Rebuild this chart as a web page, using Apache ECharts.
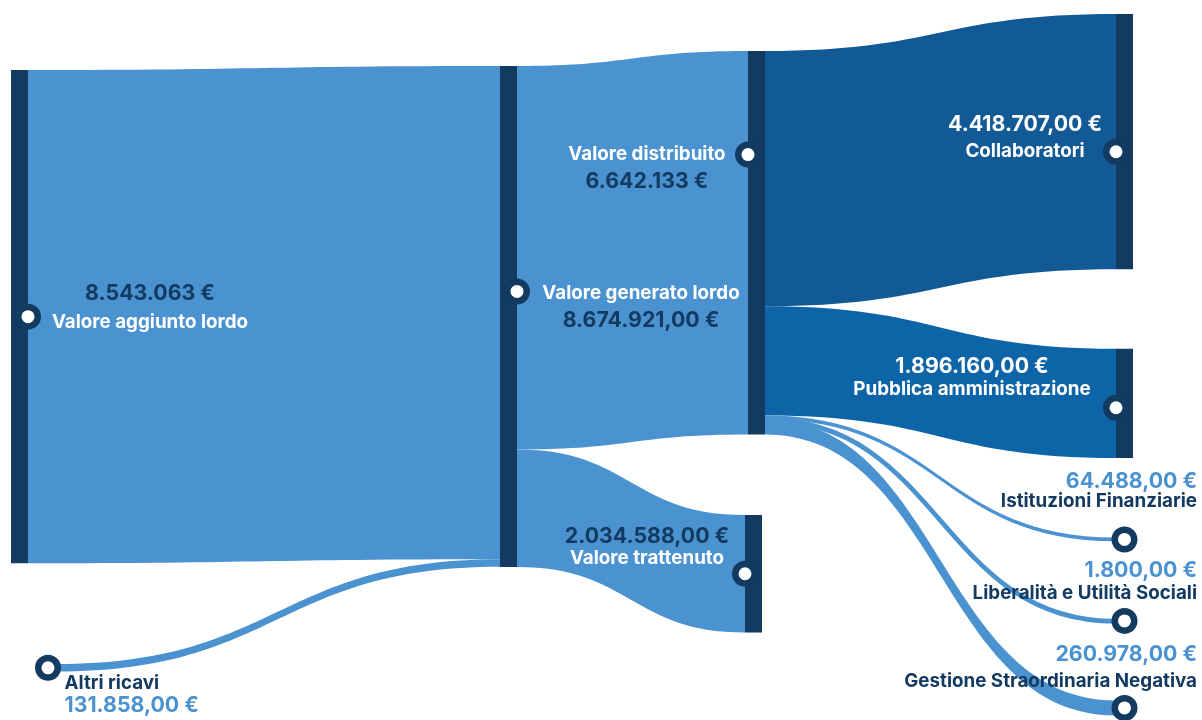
<!DOCTYPE html>
<html><head><meta charset="utf-8">
<script src="https://cdn.jsdelivr.net/npm/echarts@6/dist/echarts.min.js"></script>
<style>html,body{margin:0;padding:0;background:#fff}#c{width:1202px;height:720px}</style>
</head><body><div id="c"></div>
<script>
// ---------- DATA ----------
const nodeNames = [
  'Valore aggiunto lordo', 'Altri ricavi', 'Valore generato lordo',
  'Valore distribuito', 'Valore trattenuto', 'Collaboratori',
  'Pubblica amministrazione', 'Istituzioni Finanziarie',
  'Liberalità e Utilità Sociali', 'Gestione Straordinaria Negativa'
];
const nodeValueLabels = [
  '8.543.063 €', '131.858,00 €', '8.674.921,00 €',
  '6.642.133 €', '2.034.588,00 €', '4.418.707,00 €',
  '1.896.160,00 €', '64.488,00 €',
  '1.800,00 €', '260.978,00 €'
];
const linkSources = [
  'Valore aggiunto lordo', 'Altri ricavi',
  'Valore generato lordo', 'Valore generato lordo',
  'Valore distribuito', 'Valore distribuito', 'Valore distribuito',
  'Valore distribuito', 'Valore distribuito'
];
const linkTargets = [
  'Valore generato lordo', 'Valore generato lordo',
  'Valore distribuito', 'Valore trattenuto',
  'Collaboratori', 'Pubblica amministrazione', 'Istituzioni Finanziarie',
  'Liberalità e Utilità Sociali', 'Gestione Straordinaria Negativa'
];
const linkValues = [8543063, 131858, 6642133, 2034588, 4418707, 1896160, 64488, 1800, 260978];

// ---------- STYLE / LAYOUT ----------
const NAVY = '#133a60', LIGHT = '#4a93d0', DARK1 = '#115a96', DARK2 = '#0d64a7', WHITE = '#ffffff';
const FONT = 'Inter';
const VSIZE = 21.3, NSIZE = 18.8;
const BOX = { left: 11, top: 14, right: 69, bottom: 4.5 };
const BOXW = 1202 - BOX.left - BOX.right;
const BOXH = 720 - BOX.top - BOX.bottom;

// manual placement of the first columns (px inside the layout box); last column is stacked by ECharts
const nodePlace = {
  'Valore aggiunto lordo': { x: 0, y: 56 },
  'Altri ricavi': { x: 28.5, y: 650 },
  'Valore generato lordo': { x: 489, y: 52 },
  'Valore distribuito': { x: 737, y: 37 },
  'Valore trattenuto': { x: 734, y: 501 }
};
const lastColX = BOXW - 17;

const labelCfg = {
  'Valore aggiunto lordo': { pos: [139, '48.3%'], align: 'center', order: 'vn', vc: NAVY, nc: WHITE, lh: 29 },
  'Altri ricavi': { pos: [25, '50%'], off: [0, 27], align: 'left', order: 'nv', vc: LIGHT, nc: NAVY, lh: 22 },
  'Valore generato lordo': { pos: [141, '48.1%'], align: 'center', order: 'nv', vc: NAVY, nc: WHITE, lh: 28 },
  'Valore distribuito': { pos: [-101, '30.5%'], align: 'center', order: 'nv', vc: NAVY, nc: WHITE, lh: 27 },
  'Valore trattenuto': { pos: [-98, '27.8%'], align: 'center', order: 'vn', vc: NAVY, nc: WHITE, lh: 22 },
  'Collaboratori': { pos: [-91, '48.6%'], align: 'center', order: 'vn', vc: WHITE, nc: WHITE, lh: 26 },
  'Pubblica amministrazione': { pos: [-144, '27%'], align: 'center', order: 'vn', vc: WHITE, nc: WHITE, lh: 23 },
  'Istituzioni Finanziarie': { pos: [81, '50%'], off: [0, -48], align: 'right', order: 'vn', vc: LIGHT, nc: NAVY, lh: 20 },
  'Liberalità e Utilità Sociali': { pos: [81, '50%'], off: [0, -39], align: 'right', order: 'vn', vc: LIGHT, nc: NAVY, lh: 22 },
  'Gestione Straordinaria Negativa': { pos: [81, '50%'], off: [0, -40], align: 'right', order: 'vn', vc: LIGHT, nc: NAVY, lh: 26 }
};
const circleCfg = {
  'Valore aggiunto lordo': { side: 'right', fy: 0.5 },
  'Altri ricavi': { side: 'center', fy: 0.5 },
  'Valore generato lordo': { side: 'right', fy: 0.45 },
  'Valore distribuito': { side: 'left', fy: 0.27 },
  'Valore trattenuto': { side: 'left', fy: 0.5 },
  'Collaboratori': { side: 'left', fy: 0.54 },
  'Pubblica amministrazione': { side: 'left', fy: 0.54 },
  'Istituzioni Finanziarie': { side: 'center', fy: 0.5 },
  'Liberalità e Utilità Sociali': { side: 'center', fy: 0.5 },
  'Gestione Straordinaria Negativa': { side: 'center', fy: 0.5 }
};
const linkStyle = {
  'Collaboratori': { color: DARK1 },
  'Pubblica amministrazione': { color: DARK2 },
  'Liberalità e Utilità Sociali': { color: LIGHT, borderColor: LIGHT, borderWidth: 4 }
};

const nodes = nodeNames.map((name, i) => {
  const lc = labelCfg[name];
  const p = nodePlace[name];
  const v = '{v|' + nodeValueLabels[i] + '}', n = '{n|' + name + '}';
  const item = {
    name,
    localX: (p ? p.x : lastColX) / BOXW,
    label: {
      show: true,
      position: lc.pos,
      offset: lc.off || [0, 0],
      align: lc.align,
      verticalAlign: 'middle',
      formatter: lc.order === 'vn' ? v + '\n' + n : n + '\n' + v,
      rich: {
        v: { color: lc.vc, fontFamily: FONT, fontWeight: 700, fontSize: VSIZE, lineHeight: lc.lh, align: lc.align },
        n: { color: lc.nc, fontFamily: FONT, fontWeight: 700, fontSize: NSIZE, lineHeight: lc.lh, align: lc.align }
      }
    }
  };
  if (p) item.localY = p.y / BOXH;
  return item;
});
const links = linkValues.map((value, i) => ({
  source: linkSources[i], target: linkTargets[i], value,
  lineStyle: Object.assign({ color: LIGHT, opacity: 1 }, linkStyle[linkTargets[i]] || {})
}));

const chart = echarts.init(document.getElementById('c'), null, { renderer: 'canvas' });
chart.setOption({
  backgroundColor: '#ffffff',
  animation: false,
  series: [{
    type: 'sankey',
    left: BOX.left, top: BOX.top, right: BOX.right, bottom: BOX.bottom,
    nodeWidth: 17,
    nodeGap: 79.5,
    nodeAlign: 'left',
    layoutIterations: 0,
    draggable: false,
    emphasis: { disabled: true },
    itemStyle: { color: NAVY, borderWidth: 0, opacity: 1 },
    lineStyle: { color: LIGHT, opacity: 1, curveness: 0.5 },
    data: nodes,
    links: links
  }]
});

// circles anchored on the nodes laid out by ECharts
const sm = chart.getModel().getSeriesByIndex(0);
const li = sm.layoutInfo || { x: BOX.left, y: BOX.top, width: BOXW, height: BOXH };
const circles = [];
sm.getGraph().eachNode(node => {
  const l = node.getLayout();
  const m = node.getModel();
  const name = m.get('name');
  const lx = m.get('localX'), ly = m.get('localY');
  const x = li.x + (lx != null ? lx * li.width : l.x);
  const y = li.y + (ly != null ? ly * li.height : l.y);
  const cc = circleCfg[name];
  const cx = cc.side === 'right' ? x + l.dx : cc.side === 'left' ? x : x + l.dx / 2;
  const cy = y + l.dy * cc.fy;
  circles.push({
    type: 'circle', z: 100, silent: true,
    shape: { cx, cy, r: 9.75 },
    style: { fill: WHITE, stroke: NAVY, lineWidth: 6.5 }
  });
});
chart.setOption({ graphic: circles });
</script>
</body></html>
